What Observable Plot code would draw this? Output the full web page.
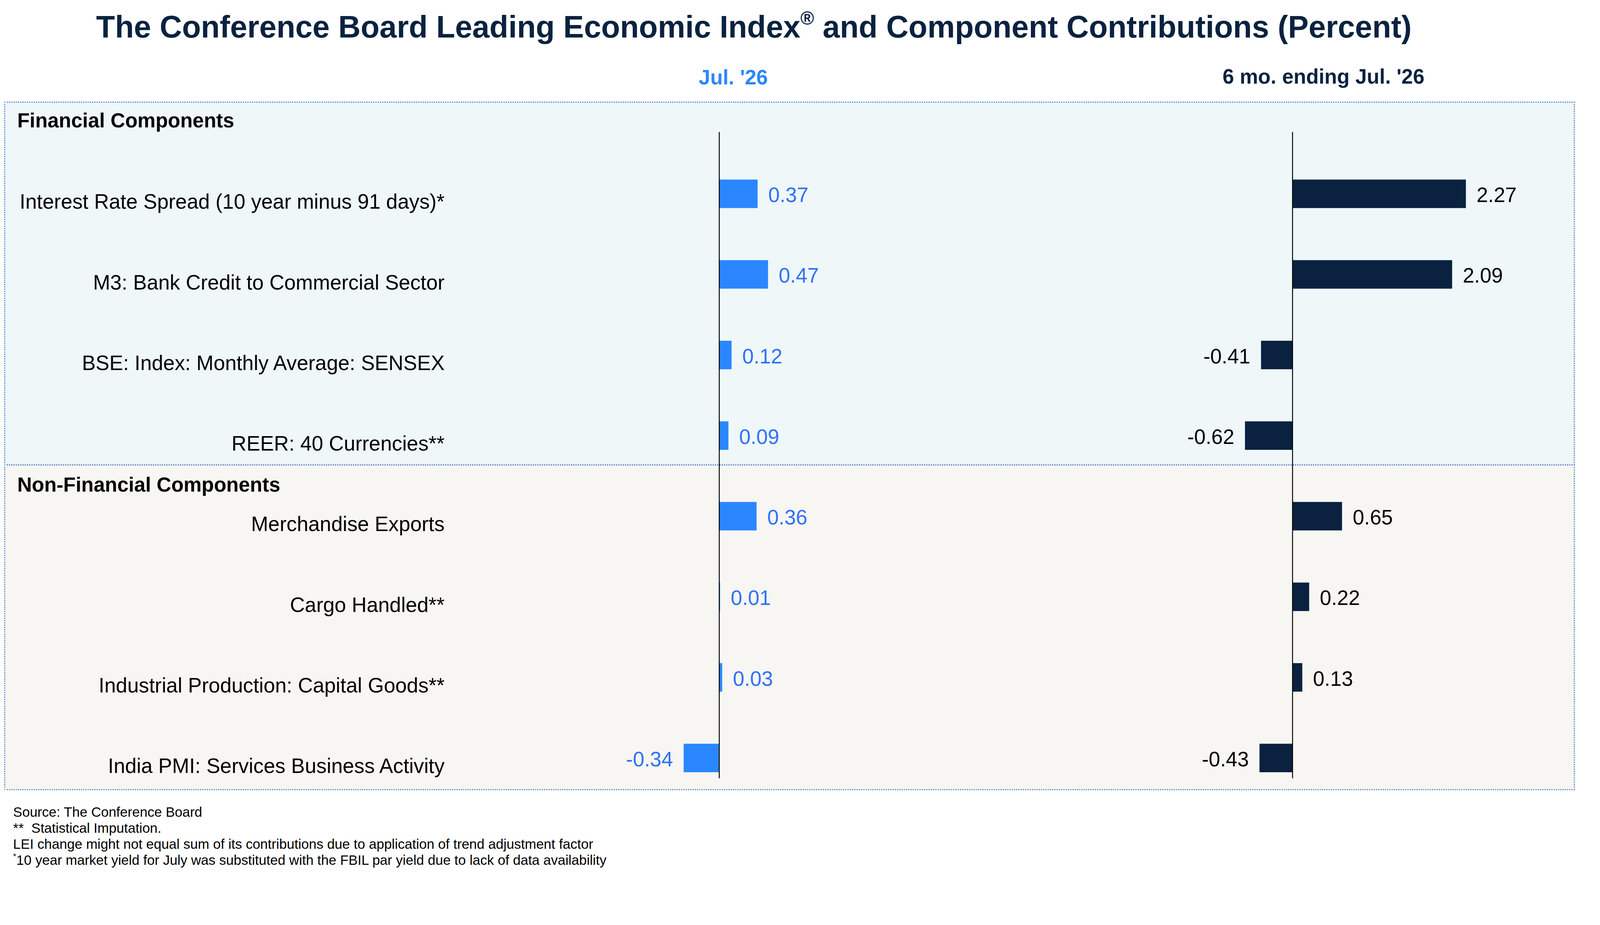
<!DOCTYPE html>
<html>
<head>
<meta charset="utf-8">
<script src="https://cdn.jsdelivr.net/npm/d3@7"></script>
<script src="https://cdn.jsdelivr.net/npm/@observablehq/plot@0.6"></script>
<style>
  html, body { margin: 0; padding: 0; background: #ffffff; overflow: hidden; }
  #page { position: relative; width: 4270px; height: 2367px; font-family: "Liberation Sans", Arial, Helvetica, sans-serif; overflow: hidden; transform-origin: 0 0; }
  .abs { position: absolute; white-space: nowrap; }
  .box { position: absolute; box-sizing: border-box; border: 3px dotted #4f86c6; }
  sup { font-size: 0.6em; line-height: 0; vertical-align: 0.7em; }
</style>
</head>
<body>
<div id="page"></div>
<script>
// ---------------- data ----------------
const chartTitle = "The Conference Board Leading Economic Index";
const chartTitleTail = " and Component Contributions (Percent)";
const columnTitles = ["Jul. '26", "6 mo. ending Jul. '26"];
const groupTitles = ["Financial Components", "Non-Financial Components"];
const categories = [
  "Interest Rate Spread (10 year minus 91 days)*",
  "M3: Bank Credit to Commercial Sector",
  "BSE: Index: Monthly Average: SENSEX",
  "REER: 40 Currencies**",
  "Merchandise Exports",
  "Cargo Handled**",
  "Industrial Production: Capital Goods**",
  "India PMI: Services Business Activity"
];
const monthValues = [0.37, 0.47, 0.12, 0.09, 0.36, 0.01, 0.03, -0.34];
const sixMonthValues = [2.27, 2.09, -0.41, -0.62, 0.65, 0.22, 0.13, -0.43];
const footnotes = [
  "Source: The Conference Board",
  "**&nbsp; Statistical Imputation.",
  "LEI change might not equal sum of its contributions due to application of trend adjustment factor",
  "<sup>*</sup>10 year market yield for July was substituted with the FBIL par yield due to lack of data availability"
];

// ---------------- layout ----------------
const page = document.getElementById("page");
function fit() {
  const s = Math.min(window.innerWidth / 4270, window.innerHeight / 2367);
  page.style.transform = "scale(" + s + ")";
}
fit();
window.addEventListener("resize", fit);

const FONT = '"Liberation Sans", Arial, Helvetica, sans-serif';
const NAVY = "#0a2240";
const BLUE = "#2a87ff";
const BLUE_TEXT = "#3070f6";

function addDiv(html, css, cls = "abs") {
  const d = document.createElement("div");
  d.className = cls;
  d.innerHTML = html;
  Object.assign(d.style, css);
  page.appendChild(d);
  return d;
}
// baseline helper: top = baseline - 0.8465*fontSize for line-height 1
const topFor = (baseline, fs) => (baseline - 0.8465 * fs) + "px";

// panel boxes
addDiv("", {left: "11px", top: "271px", width: "4192px", height: "970px", background: "#eff7f9"}, "box");
addDiv("", {left: "11px", top: "1239px", width: "4192px", height: "869px", background: "#f7f6f3"}, "box");

// title
addDiv(chartTitle + "<sup>&reg;</sup>" + chartTitleTail, {
  left: "0px", width: "4024px", textAlign: "center", top: topFor(100, 82.5),
  fontSize: "82.5px", lineHeight: "82.5px", fontWeight: "bold", color: NAVY
});
// column headers
addDiv(columnTitles[0], {left: (1957 - 600) + "px", width: "1200px", textAlign: "center", top: topFor(226, 55),
  fontSize: "55px", lineHeight: "55px", fontWeight: "bold", color: "#2b87f8"});
addDiv(columnTitles[1], {left: (3532 - 600) + "px", width: "1200px", textAlign: "center", top: topFor(224, 55),
  fontSize: "55px", lineHeight: "55px", fontWeight: "bold", color: NAVY});
// group headers
addDiv(groupTitles[0], {left: "46px", top: topFor(340, 54), fontSize: "54px", lineHeight: "54px", fontWeight: "bold", color: "#000"});
addDiv(groupTitles[1], {left: "46px", top: topFor(1311, 54), fontSize: "54px", lineHeight: "54px", fontWeight: "bold", color: "#000"});

// footnotes
addDiv(footnotes.join("<br>"), {left: "35px", top: (2180 - (21.35 + 0.3465 * 36.5)) + "px",
  fontSize: "36.5px", lineHeight: "42.7px", color: "#000"});

// ---------------- plots ----------------
const rowsMonth = categories.map((name, i) => ({name, value: monthValues[i]}));
const rowsSix = categories.map((name, i) => ({name, value: sixMonthValues[i]}));
const fmt = v => v.toFixed(2);

function panel({rows, barColor, textColor, width, marginLeft, zero, ppu, labels}) {
  const H = 1834;
  return Plot.plot({
    width, height: H,
    marginTop: 80, marginBottom: 30, marginLeft, marginRight: 0,
    x: {domain: [(marginLeft - zero) / ppu, (width - zero) / ppu], axis: null},
    y: {domain: categories, axis: null, paddingInner: 0.647, paddingOuter: 0.3248, align: 0.886},
    style: {background: "transparent", fontFamily: FONT, overflow: "visible", maxWidth: "none"},
    marks: [
      Plot.barX(rows, {x: "value", y: "name", fill: barColor}),
      Plot.ruleX([0], {stroke: "#000", strokeWidth: 2.5}),
      Plot.text(rows.filter(d => d.value >= 0), {x: "value", y: "name", text: d => fmt(d.value),
        textAnchor: "start", dx: 28, dy: 4, fill: textColor, fontSize: 55}),
      Plot.text(rows.filter(d => d.value < 0), {x: "value", y: "name", text: d => fmt(d.value),
        textAnchor: "end", dx: -29, dy: 4, fill: textColor, fontSize: 55}),
      labels ? Plot.text(rows, {y: "name", text: "name", frameAnchor: "left", textAnchor: "end",
        dy: 22, fill: "#000", fontSize: 55}) : null
    ]
  });
}

const left = panel({rows: rowsMonth, barColor: BLUE, textColor: BLUE_TEXT, width: 2700, marginLeft: 1186,
  zero: 1919, ppu: 278, labels: true});
const right = panel({rows: rowsSix, barColor: NAVY, textColor: "#000", width: 1570, marginLeft: 0,
  zero: 749, ppu: 204, labels: false});

const wl = addDiv("", {left: "0px", top: "272px", width: "2700px", height: "1834px"});
wl.appendChild(left);
const wr = addDiv("", {left: "2700px", top: "272px", width: "1570px", height: "1834px"});
wr.appendChild(right);
</script>
</body>
</html>
